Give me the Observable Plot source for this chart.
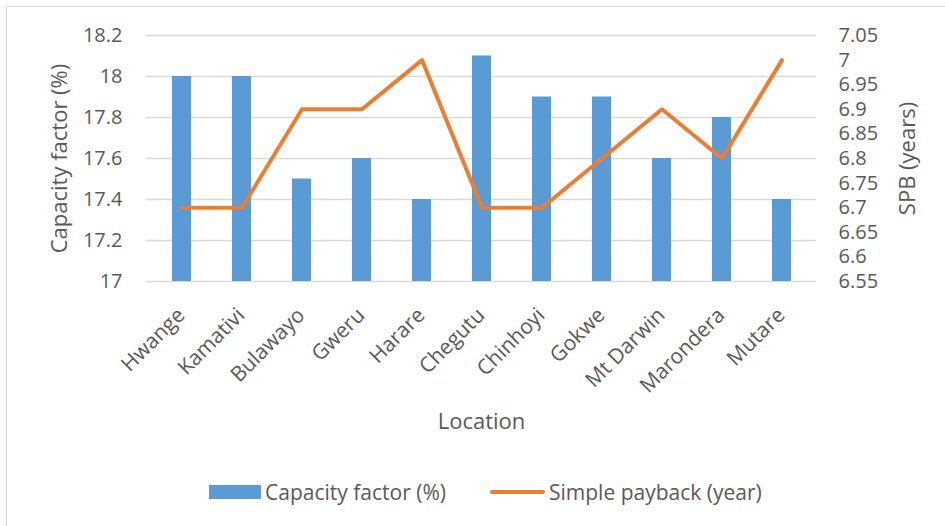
<!DOCTYPE html>
<html>
<head>
<meta charset="utf-8">
<script src="https://cdn.jsdelivr.net/npm/d3@7"></script>
<script src="https://cdn.jsdelivr.net/npm/@observablehq/plot@0.6"></script>
<style>
  html, body { margin: 0; padding: 0; background: #fff; }
  #wrap { position: relative; width: 945px; height: 526px; overflow: hidden; font-family: "Open Sans", sans-serif; color: #595959; }
  #border { position: absolute; left: 6px; top: 6px; width: 1000px; height: 1000px; border-left: 1.5px solid #d9d9d9; border-top: 1.5px solid #d9d9d9; box-sizing: border-box; }
  #chart { position: absolute; left: 0; top: 0; }
  .leg { position: absolute; font-size: 21px; line-height: 1; white-space: nowrap; }
</style>
</head>
<body>
<div id="wrap">
  <div id="border"></div>
  <div id="chart"></div>
  <div id="legend"></div>
</div>
<script>
const locations = ["Hwange", "Kamativi", "Bulawayo", "Gweru", "Harare", "Chegutu", "Chinhoyi", "Gokwe", "Mt Darwin", "Marondera", "Mutare"];
const capacityFactor = [18.0, 18.0, 17.5, 17.6, 17.4, 18.1, 17.9, 17.9, 17.6, 17.8, 17.4];
const simplePayback = [6.7, 6.7, 6.9, 6.9, 7.0, 6.7, 6.7, 6.8, 6.9, 6.8, 7.0];
const leftTicks = [17, 17.2, 17.4, 17.6, 17.8, 18, 18.2];
const rightTicks = [6.55, 6.6, 6.65, 6.7, 6.75, 6.8, 6.85, 6.9, 6.95, 7.0, 7.05];
const leftDomain = [17, 18.2];
const rightDomain = [6.55, 7.05];
const seriesNames = ["Capacity factor (%)", "Simple payback (year)"];
const colors = ["#5B9BD5", "#ED7D31"];

const k = (leftDomain[1] - leftDomain[0]) / (rightDomain[1] - rightDomain[0]);
const toLeft = v => leftDomain[0] + (v - rightDomain[0]) * k;
const fromLeft = v => rightDomain[0] + (v - leftDomain[0]) / k;

const data = locations.map((loc, i) => ({loc, cap: capacityFactor[i], spb: simplePayback[i]}));

const chart = Plot.plot({
  width: 945,
  height: 470,
  marginLeft: 146,
  marginRight: 129,
  marginTop: 35,
  marginBottom: 189,
  style: {fontFamily: "'Open Sans', sans-serif", color: "#595959", background: "transparent", overflow: "visible"},
  x: {domain: locations, paddingInner: 0.69, paddingOuter: 0.345, axis: null},
  y: {domain: leftDomain, axis: null},
  marks: [
    Plot.gridY(leftTicks, {stroke: "#d9d9d9", strokeOpacity: 1, strokeWidth: 1.3}),
    Plot.barY(data, {x: "loc", y1: leftDomain[0], y2: "cap", fill: colors[0]}),
    Plot.line(data, {x: "loc", y: d => toLeft(d.spb), stroke: colors[1], strokeWidth: 4, strokeLinejoin: "round", strokeLinecap: "round"}),
    Plot.axisY(leftTicks, {anchor: "left", tickSize: 0, tickPadding: 24, fontSize: 20, fill: "#595959", tickFormat: d => String(+d.toFixed(1)), label: null}),
    Plot.axisY(rightTicks.map(toLeft), {anchor: "right", tickSize: 0, tickPadding: 22, fontSize: 20, fill: "#595959", tickFormat: d => String(+fromLeft(d).toFixed(2)), label: null}),
    Plot.text(locations, {x: d => d, frameAnchor: "bottom", rotate: -45, textAnchor: "end", dx: 4, dy: 35, fontSize: 21, fill: "#595959"}),
    Plot.text(["Capacity factor (%)"], {frameAnchor: "left", textAnchor: "middle", rotate: -90, dx: -87, fontSize: 22, fill: "#595959"}),
    Plot.text(["SPB (years)"], {frameAnchor: "right", textAnchor: "middle", rotate: -90, dx: 91, fontSize: 22, fill: "#595959"}),
    Plot.text(["Location"], {frameAnchor: "bottom", dy: 147, fontSize: 22, fill: "#595959"})
  ]
});
document.getElementById("chart").appendChild(chart);

const legend = document.getElementById("legend");
legend.innerHTML = `
  <div style="position:absolute;left:209px;top:485px;width:52px;height:14px;background:${colors[0]}"></div>
  <div class="leg" style="left:265px;top:482px">${seriesNames[0]}</div>
  <div style="position:absolute;left:490px;top:490px;width:55px;height:4px;border-radius:2px;background:${colors[1]}"></div>
  <div class="leg" style="left:549px;top:482px">${seriesNames[1]}</div>
`;
</script>
</body>
</html>
